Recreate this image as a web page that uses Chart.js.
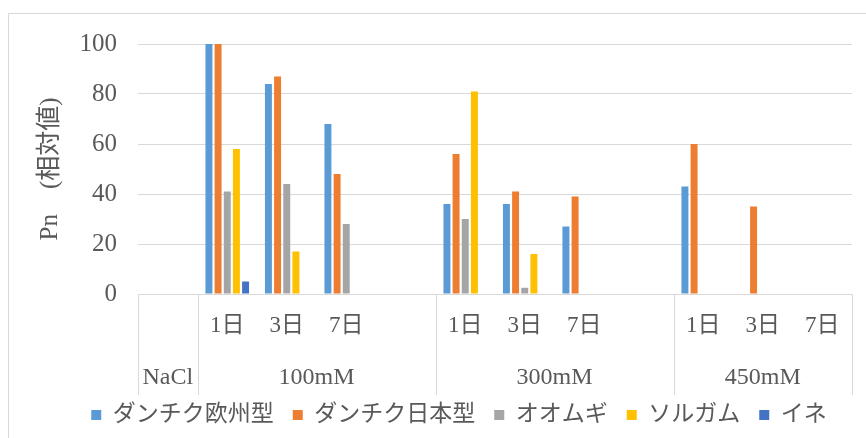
<!DOCTYPE html>
<html><head><meta charset="utf-8">
<script src="https://cdn.jsdelivr.net/npm/chart.js@4/dist/chart.umd.min.js"></script>
<style>html,body{margin:0;padding:0;background:#fff}#wrap{width:866px;height:438px;position:relative}</style>
</head><body><div id="wrap"><canvas id="c" width="866" height="438"></canvas></div>
<script>
// ---- data ----
const categories = ["", "1日", "3日", "7日", "", "1日", "3日", "7日", "", "1日", "3日", "7日"];
const groupLabels = ["NaCl", "100mM", "300mM", "450mM"];
const groupSpans = [1, 4, 4, 3];
const seriesNames = ["ダンチク欧州型", "ダンチク日本型", "オオムギ", "ソルガム", "イネ"];
const danchikuEurope = [null, 100, 84, 68, null, 36, 36, 27, null, 43, null, null];
const danchikuJapan  = [null, 100, 87, 48, null, 56, 41, 39, null, 60, 35, null];
const barley         = [null, 41, 44, 28, null, 30, 2.5, null, null, null, null, null];
const sorghum        = [null, 58, 17, null, null, 81, 16, null, null, null, null, null];
const rice           = [null, 5, null, null, null, null, null, null, null, null, null, null];
const yTicks = [0, 20, 40, 60, 80, 100];
const yTitle = "Pn　(相対値)";

const colors = ["#5B9BD5", "#ED7D31", "#A5A5A5", "#FFC000", "#4472C4"];
const seriesValues = [danchikuEurope, danchikuJapan, barley, sorghum, rice];
const FONT = "'Liberation Serif','Noto Sans CJK JP',serif";
const TXT = "#595959";
const LINE = "#D9D9D9";

const framePlugin = {
  id: 'frame',
  beforeDraw(chart) {
    const ctx = chart.ctx;
    ctx.save();
    ctx.fillStyle = '#fff';
    ctx.fillRect(0, 0, chart.width, chart.height);
    ctx.strokeStyle = LINE;
    ctx.lineWidth = 1;
    ctx.strokeRect(8.5, 13.5, chart.width + 20, chart.height + 20);
    ctx.restore();
  }
};

// legend block in the reference sits a bit right of the canvas centre
const legendShift = {
  id: 'legendShift',
  afterLayout(chart) {
    if (chart.legend) { chart.legend.left += 33; chart.legend.right += 33; }
  }
};

const groupPlugin = {
  id: 'groups',
  afterDraw(chart) {
    const x = chart.scales.x;
    const ctx = chart.ctx;
    const half = (x.getPixelForValue(1) - x.getPixelForValue(0)) / 2;
    const y0 = x.top, y1 = x.top + 101;
    ctx.save();
    ctx.strokeStyle = LINE;
    ctx.lineWidth = 1;
    let idx = 0;
    const bounds = [x.getPixelForValue(0) - half];
    groupSpans.forEach(s => { idx += s; bounds.push(x.getPixelForValue(idx - 1) + half); });
    bounds.forEach(b => {
      const bx = Math.round(b) + 0.5;
      ctx.beginPath(); ctx.moveTo(bx, y0); ctx.lineTo(bx, y1); ctx.stroke();
    });
    ctx.fillStyle = TXT;
    ctx.font = "24px " + FONT;
    ctx.textAlign = 'center';
    ctx.textBaseline = 'middle';
    groupLabels.forEach((g, i) => {
      ctx.fillText(g, (bounds[i] + bounds[i + 1]) / 2, 378);
    });
    ctx.restore();
  }
};

new Chart(document.getElementById('c'), {
  type: 'bar',
  data: {
    labels: categories,
    datasets: seriesNames.map((n, i) => ({
      label: n,
      data: seriesValues[i],
      backgroundColor: colors[i],
      borderWidth: 0,
      categoryPercentage: 0.77,
      barPercentage: 0.76
    }))
  },
  options: {
    responsive: false,
    animation: false,
    devicePixelRatio: 1,
    layout: { padding: { left: 0, right: 14, top: 44, bottom: 1.5 } },
    plugins: {
      legend: {
        position: 'bottom',
        labels: {
          boxWidth: 10, boxHeight: 10, padding: 19,
          color: TXT,
          font: { family: FONT, size: 23 }
        }
      },
      tooltip: { enabled: false }
    },
    scales: {
      x: {
        grid: { display: false, drawTicks: false },
        border: { display: true, color: LINE, width: 1 },
        ticks: {
          autoSkip: false, maxRotation: 0, minRotation: 0,
          padding: 18, color: TXT,
          font: { family: FONT, size: 23 }
        },
        afterFit(s) { s.height = 90.5; }
      },
      y: {
        min: 0, max: 100,
        afterBuildTicks(s) { s.ticks = yTicks.map(v => ({ value: v })); },
        grid: { color: LINE, drawTicks: false },
        border: { display: false },
        ticks: { padding: 21, color: TXT, font: { family: FONT, size: 25 } },
        title: {
          display: true, text: yTitle, color: TXT,
          font: { family: FONT, size: 25 },
          padding: { top: 35, bottom: 0 }
        },
        afterFit(s) { s.width = 138; }
      }
    }
  },
  plugins: [framePlugin, legendShift, groupPlugin]
});
</script>
</body></html>
